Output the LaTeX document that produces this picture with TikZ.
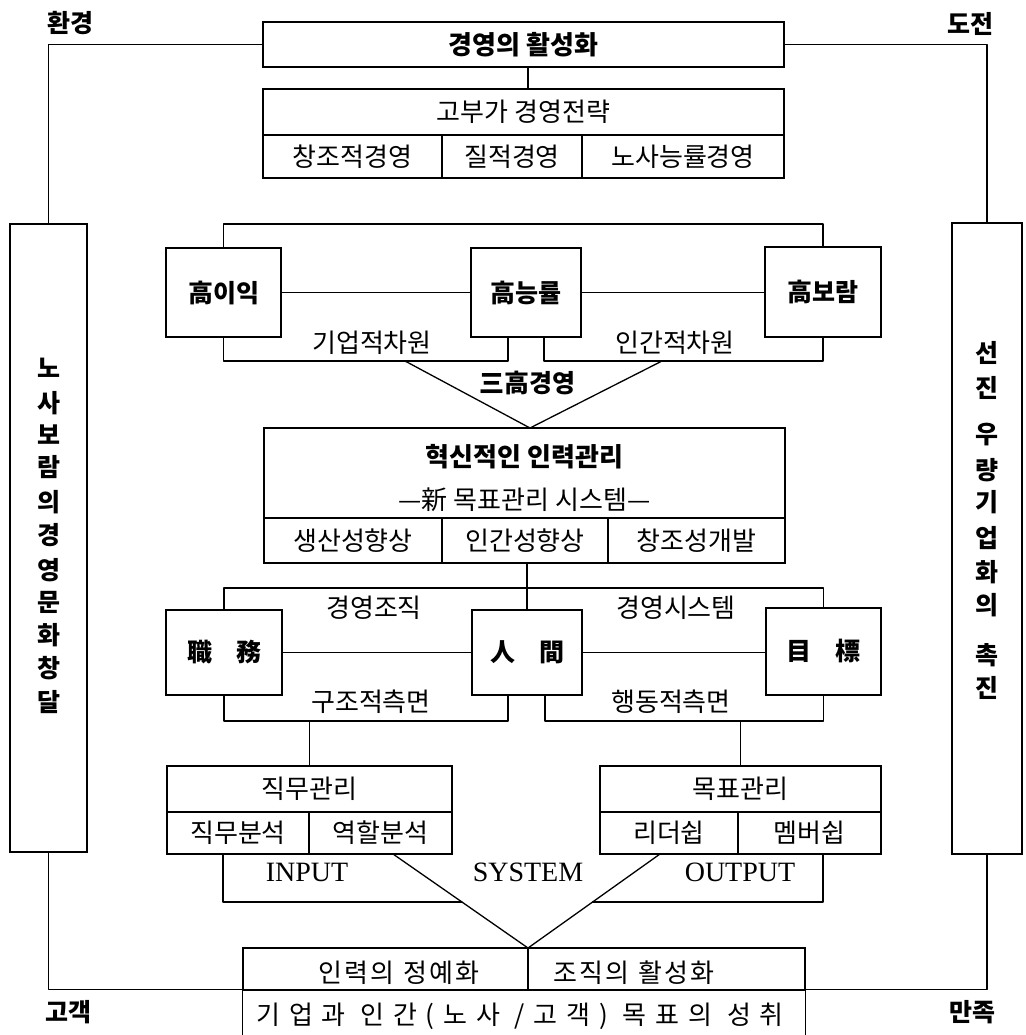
\documentclass[tikz,border=0pt]{standalone}
\usepackage{fontspec}
\setmainfont{Liberation Serif}
\newfontfamily\kr{Noto Sans CJK KR}
\newfontfamily\krw{Noto Sans CJK KR}[LetterSpace=9]
\newfontfamily\krww{Noto Sans CJK KR}[LetterSpace=34]
\begin{document}
\tikzset{
  ln/.style={line width=1.3pt, line cap=round, line join=round},
  box/.style={draw, line width=1.3pt, rectangle, inner sep=0pt, outer sep=0pt},
  txt/.style={inner sep=0pt, font=\kr\fontsize{26}{30}\selectfont},
  wtxt/.style={inner sep=0pt, font=\krw\fontsize{26}{30}\selectfont},
  wwtxt/.style={inner sep=0pt, font=\krww\fontsize{26}{30}\selectfont},
  gtxt/.style={inner sep=0pt, font=\kr\bfseries\fontsize{25}{29}\selectfont},
  Gtxt/.style={inner sep=0pt, font=\kr\bfseries\fontsize{26}{30}\selectfont},
  ltxt/.style={inner sep=0pt, font=\fontsize{28}{32}\selectfont},
}
\begin{tikzpicture}[x=1pt,y=-1pt]
\useasboundingbox (0,0) rectangle (1025,1035);

% ---------- top ----------
\node[box, Gtxt, minimum width=521pt, minimum height=45pt] (T) at (523.5,44.5) {경영의 활성화};
\node[box, txt, minimum width=521pt, minimum height=46pt] (S1) at (523.5,112) {고부가 경영전략};
\node[box, txt, minimum width=179pt, minimum height=43pt] (s1) at (352.5,156.5) {창조적경영};
\node[box, txt, minimum width=140pt, minimum height=43pt] (s2) at (512,156.5) {질적경영};
\node[box, txt, minimum width=202pt, minimum height=43pt] (s3) at (683,156.5) {노사능률경영};
\draw[ln] ([xshift=4.5pt]T.south) -- ([xshift=4.5pt]S1.north);

% ---------- three high ----------
\node[box, gtxt, minimum width=115pt, minimum height=89pt] (A1) at (223.5,292.5) {高이익};
\node[box, gtxt, minimum width=110pt, minimum height=89pt] (A2) at (526,292.5) {高능률};
\node[box, gtxt, minimum width=116pt, minimum height=90pt] (A3) at (823,292) {高보람};
\draw[ln] (A1.east) -- (A1.east -| A2.west);
\draw[ln] (A2.east) -- (A2.east -| A3.west);
\draw[ln] (A1.north) -- ++(0,-24) -| (A3.north);
\draw[ln] (A1.south) -- ++(0,24) -| ([xshift=-18pt]A2.south);
\draw[ln] ([xshift=18pt]A2.south) -- ++(0,24) -| (A3.south);
\node[txt] (k1) at (372,343) {기업적차원};
\node[txt] (k2) at (675,343) {인간적차원};

% ---------- innovative HR box ----------
\node[box, minimum width=521pt, minimum height=90pt] (B1) at (524.5,473) {};
\node[Gtxt] (B1a) at (524.5,457) {혁신적인 인력관리};
\node[txt] (B1b) at (524.5,500) {—新 목표관리 시스템—};
\node[box, txt, minimum width=178pt, minimum height=45pt] (b1) at (353,540.5) {생산성향상};
\node[box, txt, minimum width=166pt, minimum height=45pt] (b2) at (525,540.5) {인간성향상};
\node[box, txt, minimum width=177pt, minimum height=45pt] (b3) at (696.5,540.5) {창조성개발};

\coordinate (v1) at (405,361);
\coordinate (v2) at (662,361);
\coordinate (apx) at ([xshift=5.5pt]B1.north);
\draw[ln] (v1) -- (apx) -- (v2);
\node[gtxt] (sam) at (527,383) {三高경영};

% ---------- job / human / goal ----------
\node[box, gtxt, minimum width=116pt, minimum height=85pt] (C1) at (224,652.5) {職\hspace{24pt}務};
\node[box, gtxt, minimum width=110pt, minimum height=85pt] (C2) at (527,652.5) {人\hspace{24pt}間};
\node[box, gtxt, minimum width=115pt, minimum height=87pt] (C3) at (823.5,651.5) {目\hspace{24pt}標};
\draw[ln] (C2.north) -- (C2.north |- b2.south);
\draw[ln] (C1.north) -- ++(0,-22) -| (C3.north);
\draw[ln] (C1.east) -- (C1.east -| C2.west);
\draw[ln] (C2.east) -- (C2.east -| C3.west);
\draw[ln] (C1.south) -- ++(0,26) -| ([xshift=-19pt]C2.south);
\draw[ln] ([xshift=18pt]C2.south) -- ++(0,26) -| (C3.south);
\node[txt] (m1) at (374,608) {경영조직};
\node[txt] (m2) at (676,608) {경영시스템};
\node[txt] (m3) at (371,702) {구조적측면};
\node[txt] (m4) at (671,702) {행동적측면};

% ---------- job management / goal management ----------
\node[box, txt, minimum width=285pt, minimum height=46pt] (D1) at (309.5,789) {직무관리};
\node[box, txt, minimum width=142pt, minimum height=42pt] (D2) at (238,833) {직무분석};
\node[box, txt, minimum width=143pt, minimum height=42pt] (D3) at (380.5,833) {역할분석};
\node[box, txt, minimum width=281pt, minimum height=46pt] (E1) at (740.5,789) {목표관리};
\node[box, txt, minimum width=138pt, minimum height=42pt] (E2) at (669,833) {리더쉽};
\node[box, txt, minimum width=143pt, minimum height=42pt] (E3) at (809.5,833) {멤버쉽};
\draw[ln] (D1.north) -- ++(0,-45);
\draw[ln] (E1.north) -- ++(0,-45);

% ---------- bottom box ----------
\node[box, minimum width=285pt, minimum height=42pt] (F1a) at (385.5,969) {};
\node[box, minimum width=277pt, minimum height=42pt] (F1b) at (666.5,969) {};
\node[wtxt] (f1) at (399,973) {인력의 정예화};
\node[wtxt] (f2) at (634,973) {조직의 활성화};
\node[wwtxt, minimum width=562pt, minimum height=45pt] (F2) at (524,1012.5) {};
\node[wwtxt] (f3) at (520,1016) {기업과 인간(노사 /고객) 목표의 성취};
\draw[ln] (F2.north west) -- (F2.south west);
\draw[ln] (F2.north east) -- (F2.south east);

% ---------- INPUT / SYSTEM / OUTPUT ----------
\coordinate (inL) at ([xshift=-15pt]D2.south);
\coordinate (ix) at (462,902);
\draw[ln] (inL) |- (ix);
\coordinate (dg1) at ([xshift=12.5pt]D3.south);
\coordinate (dg2) at ([xshift=-9pt]E2.south);
\draw[ln] (dg1) -- (F1a.north east) -- (dg2);
\coordinate (oR) at ([xshift=13.5pt]E3.south);
\coordinate (ox) at (592.6,902);
\draw[ln] (oR) |- (ox);
\node[ltxt] (inp) at (307,872) {INPUT};
\node[ltxt] (sys) at (528,872) {SYSTEM};
\node[ltxt] (outp) at (740,872) {OUTPUT};

% ---------- side boxes ----------
\node[box, minimum width=77pt, minimum height=628pt] (L) at (48.5,538) {};
\node[box, minimum width=70pt, minimum height=631pt] (R) at (987,538.5) {};
\foreach \ch/\yy [count=\i] in {노/368,사/403,보/435,람/467,의/502,경/535,영/570,문/602,화/635,창/668,달/702}
  \node[gtxt] (lv\i) at (48.5,\yy) {\ch};
\foreach \ch/\yy [count=\i] in {선/353,진/388,우/435,량/470,기/502,업/538,화/572,의/605,촉/655,진/688}
  \node[gtxt] (rv\i) at (987,\yy) {\ch};

\draw[ln] (T.west) -| (L.north);
\draw[ln] (T.east) -| (R.north);
\draw[ln] (L.south) |- (F2.north west);
\draw[ln] (R.south) |- (F2.north east);

% ---------- corner labels ----------
\node[gtxt] (env) at (70,23) {환경};
\node[gtxt] (chal) at (970,24) {도전};
\node[gtxt] (cust) at (68,1012) {고객};
\node[gtxt] (sat) at (972,1012) {만족};
\end{tikzpicture}
\end{document}
